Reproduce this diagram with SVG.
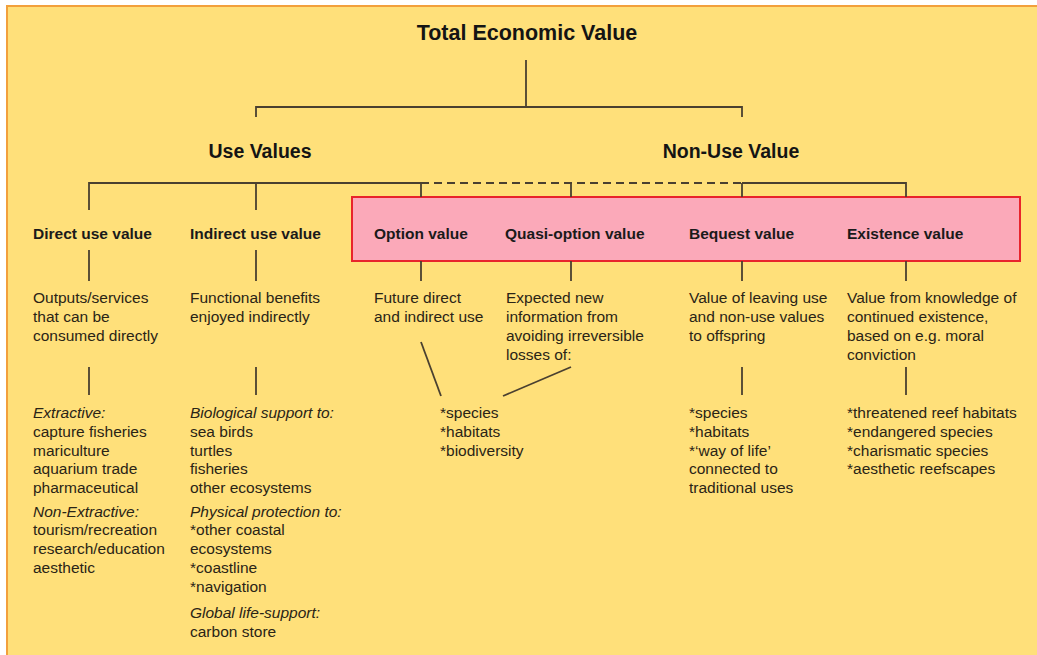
<svg xmlns="http://www.w3.org/2000/svg" width="1037" height="655" viewBox="0 0 1037 655">
<style>
.title{font-family:"Liberation Sans",Arial,sans-serif;font-weight:bold;fill:#141414}
.t1{font-size:21.5px}
.t2{font-size:19.5px}
.lab{font-family:"Liberation Sans",Arial,sans-serif;font-weight:bold;font-size:15.5px;fill:#1a1a1a}
.body{font-family:"Liberation Sans",Arial,sans-serif;font-size:15.5px;fill:#2a2416}
.it{font-style:italic}
.ln{stroke:#4a4030;stroke-width:1.8;fill:none}
.dash{stroke-dasharray:8 5}
</style>
<rect x="0" y="0" width="1037" height="655" fill="#ffffff"/>
<rect x="7" y="6" width="1032" height="652" fill="#FFE07A" stroke="#F2A03C" stroke-width="2"/>
<rect x="352" y="197" width="668" height="64" fill="#FBA9B9" stroke="#E8242C" stroke-width="2"/>

<g id="connectors">
<line class="ln" x1="526" y1="60" x2="526" y2="107"/>
<polyline class="ln" points="256,117 256,107 742,107 742,117"/>
<polyline class="ln" points="89,210 89,183 421,183"/>
<line class="ln" x1="256" y1="183" x2="256" y2="210"/>
<line class="ln dash" x1="421" y1="183" x2="742" y2="183"/>
<polyline class="ln" points="742,183 906,183 906,197"/>
<line class="ln" x1="421" y1="183" x2="421" y2="197"/>
<line class="ln" x1="571" y1="183" x2="571" y2="197"/>
<line class="ln" x1="742" y1="183" x2="742" y2="197"/>
<line class="ln" x1="89" y1="250" x2="89" y2="281"/>
<line class="ln" x1="256" y1="250" x2="256" y2="281"/>
<line class="ln" x1="421" y1="261" x2="421" y2="281"/>
<line class="ln" x1="571" y1="261" x2="571" y2="281"/>
<line class="ln" x1="742" y1="261" x2="742" y2="281"/>
<line class="ln" x1="906" y1="261" x2="906" y2="281"/>
<line class="ln" x1="89" y1="367" x2="89" y2="395"/>
<line class="ln" x1="256" y1="367" x2="256" y2="395"/>
<line class="ln" x1="742" y1="367" x2="742" y2="395"/>
<line class="ln" x1="906" y1="367" x2="906" y2="395"/>
<line class="ln" x1="421" y1="342" x2="441" y2="396"/>
<line class="ln" x1="571" y1="367" x2="503" y2="396"/>
</g>

<g id="tev"><text class="title t1" x="527" y="40" text-anchor="middle">Total Economic Value</text></g>
<g id="use-values"><text class="title t2" x="260" y="158" text-anchor="middle">Use Values</text></g>
<g id="non-use-value"><text class="title t2" x="731" y="158" text-anchor="middle">Non-Use Value</text></g>

<g id="direct-use">
<text class="lab" x="33" y="239">Direct use value</text>
<text class="body" x="33" y="303"><tspan x="33">Outputs/services</tspan><tspan x="33" dy="19">that can be</tspan><tspan x="33" dy="19">consumed directly</tspan></text>
<text class="body" x="33" y="418"><tspan x="33" class="it">Extractive:</tspan><tspan x="33" dy="18.8">capture fisheries</tspan><tspan x="33" dy="18.8">mariculture</tspan><tspan x="33" dy="18.8">aquarium trade</tspan><tspan x="33" dy="18.8">pharmaceutical</tspan><tspan x="33" dy="23.3" class="it">Non-Extractive:</tspan><tspan x="33" dy="18.8">tourism/recreation</tspan><tspan x="33" dy="18.8">research/education</tspan><tspan x="33" dy="18.8">aesthetic</tspan></text>
</g>

<g id="indirect-use">
<text class="lab" x="190" y="239">Indirect use value</text>
<text class="body" x="190" y="303"><tspan x="190">Functional benefits</tspan><tspan x="190" dy="19">enjoyed indirectly</tspan></text>
<text class="body" x="190" y="418"><tspan x="190" class="it">Biological support to:</tspan><tspan x="190" dy="18.8">sea birds</tspan><tspan x="190" dy="18.8">turtles</tspan><tspan x="190" dy="18.8">fisheries</tspan><tspan x="190" dy="18.8">other ecosystems</tspan><tspan x="190" dy="23.3" class="it">Physical protection to:</tspan><tspan x="190" dy="18.8">*other coastal</tspan><tspan x="190" dy="18.8">ecosystems</tspan><tspan x="190" dy="18.8">*coastline</tspan><tspan x="190" dy="18.8">*navigation</tspan><tspan x="190" dy="26" class="it">Global life-support:</tspan><tspan x="190" dy="18.8">carbon store</tspan></text>
</g>

<g id="option-value">
<text class="lab" x="374" y="239">Option value</text>
<text class="body" x="374" y="303"><tspan x="374">Future direct</tspan><tspan x="374" dy="19">and indirect use</tspan></text>
</g>

<g id="quasi-option-value">
<text class="lab" x="505" y="239">Quasi-option value</text>
<text class="body" x="506" y="303"><tspan x="506">Expected new</tspan><tspan x="506" dy="19">information from</tspan><tspan x="506" dy="19">avoiding irreversible</tspan><tspan x="506" dy="18.5">losses of:</tspan></text>
</g>

<g id="option-targets">
<text class="body" x="440" y="418"><tspan x="440">*species</tspan><tspan x="440" dy="18.8">*habitats</tspan><tspan x="440" dy="18.8">*biodiversity</tspan></text>
</g>

<g id="bequest-value">
<text class="lab" x="689" y="239">Bequest value</text>
<text class="body" x="689" y="303"><tspan x="689">Value of leaving use</tspan><tspan x="689" dy="19">and non-use values</tspan><tspan x="689" dy="19">to offspring</tspan></text>
<text class="body" x="689" y="418"><tspan x="689">*species</tspan><tspan x="689" dy="18.8">*habitats</tspan><tspan x="689" dy="18.8">*‘way of life’</tspan><tspan x="689" dy="18.8">connected to</tspan><tspan x="689" dy="18.8">traditional uses</tspan></text>
</g>

<g id="existence-value">
<text class="lab" x="847" y="239">Existence value</text>
<text class="body" x="847" y="303"><tspan x="847">Value from knowledge of</tspan><tspan x="847" dy="19">continued existence,</tspan><tspan x="847" dy="19">based on e.g. moral</tspan><tspan x="847" dy="18.5">conviction</tspan></text>
<text class="body" x="847" y="418"><tspan x="847">*threatened reef habitats</tspan><tspan x="847" dy="18.8">*endangered species</tspan><tspan x="847" dy="18.8">*charismatic species</tspan><tspan x="847" dy="18.8">*aesthetic reefscapes</tspan></text>
</g>
</svg>
